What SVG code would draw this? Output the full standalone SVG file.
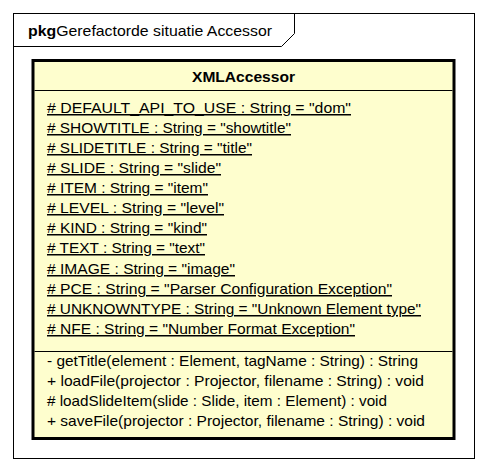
<svg xmlns="http://www.w3.org/2000/svg" width="488" height="472" viewBox="0 0 488 472">
<style>
text{font-family:"Liberation Sans",Arial,sans-serif;font-size:15px;fill:#000}
.b{font-weight:bold}
.u{text-decoration:underline}
.frame{fill:none;stroke:#000;stroke-width:1}
.cls{fill:#FEFECE;stroke:#000;stroke-width:3}
.sep{stroke:#000;stroke-width:1}
</style>
<rect width="488" height="472" fill="#fff"/>
<g id="package">
<rect class="frame" x="13.5" y="13.5" width="461" height="445"/>
<path class="frame" d="M13.5,46.5 H281.5 L294.5,33.5 V13.5"/>
<text x="28" y="36" textLength="244" lengthAdjust="spacingAndGlyphs"><tspan class="b">pkg</tspan>Gerefactorde situatie Accessor</text>
</g>
<g id="XMLAccessor">
<rect class="cls" x="33" y="60.5" width="421" height="378"/>
<line class="sep" x1="34.5" y1="90.5" x2="452.5" y2="90.5"/>
<line class="sep" x1="34.5" y1="351.5" x2="452.5" y2="351.5"/>
<text class="b" x="192" y="82" textLength="103" lengthAdjust="spacingAndGlyphs">XMLAccessor</text>
<g class="u">
<text x="47" y="113" textLength="304" lengthAdjust="spacingAndGlyphs"># DEFAULT_API_TO_USE : String = "dom"</text>
<text x="47" y="133" textLength="244" lengthAdjust="spacingAndGlyphs"># SHOWTITLE : String = "showtitle"</text>
<text x="47" y="153" textLength="205" lengthAdjust="spacingAndGlyphs"># SLIDETITLE : String = "title"</text>
<text x="47" y="173" textLength="174" lengthAdjust="spacingAndGlyphs"># SLIDE : String = "slide"</text>
<text x="47" y="193" textLength="161" lengthAdjust="spacingAndGlyphs"># ITEM : String = "item"</text>
<text x="47" y="213" textLength="177" lengthAdjust="spacingAndGlyphs"># LEVEL : String = "level"</text>
<text x="47" y="233" textLength="160" lengthAdjust="spacingAndGlyphs"># KIND : String = "kind"</text>
<text x="47" y="253" textLength="158" lengthAdjust="spacingAndGlyphs"># TEXT : String = "text"</text>
<text x="47" y="274" textLength="188" lengthAdjust="spacingAndGlyphs"># IMAGE : String = "image"</text>
<text x="47" y="294" textLength="345" lengthAdjust="spacingAndGlyphs"># PCE : String = "Parser Configuration Exception"</text>
<text x="47" y="314" textLength="374" lengthAdjust="spacingAndGlyphs"># UNKNOWNTYPE : String = "Unknown Element type"</text>
<text x="47" y="334" textLength="308" lengthAdjust="spacingAndGlyphs"># NFE : String = "Number Format Exception"</text>
</g>
<text x="47" y="365.5" textLength="371" lengthAdjust="spacingAndGlyphs">- getTitle(element : Element, tagName : String) : String</text>
<text x="47" y="385.5" textLength="377" lengthAdjust="spacingAndGlyphs">+ loadFile(projector : Projector, filename : String) : void</text>
<text x="47" y="405.5" textLength="340" lengthAdjust="spacingAndGlyphs"># loadSlideItem(slide : Slide, item : Element) : void</text>
<text x="47" y="425.5" textLength="378" lengthAdjust="spacingAndGlyphs">+ saveFile(projector : Projector, filename : String) : void</text>
</g>
</svg>
